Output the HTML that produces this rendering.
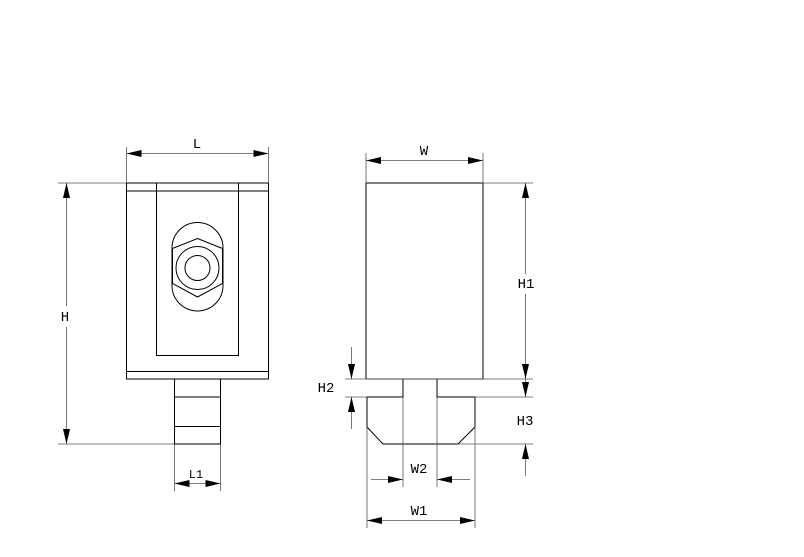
<!DOCTYPE html>
<html><head><meta charset="utf-8"><style>
html,body{margin:0;padding:0;background:#fff;}
svg{display:block;}
text{font-family:"Liberation Mono",monospace;font-size:14px;fill:#000;}
</style></head><body>
<svg width="804" height="557" viewBox="0 0 804 557" xmlns="http://www.w3.org/2000/svg">
<defs>
<marker id="a" viewBox="0 0 15 7" refX="15" refY="3.5" markerWidth="15" markerHeight="7" markerUnits="userSpaceOnUse" orient="auto-start-reverse"><path d="M0,0 L15,3.5 L0,7 z" fill="#000"/></marker>
</defs>
<g fill="none" stroke="#000" stroke-width="1">
<rect x="126.5" y="183" width="142" height="196"/>
<line x1="126.5" y1="191" x2="268.5" y2="191"/>
<line x1="126.5" y1="371.5" x2="268.5" y2="371.5"/>
<path d="M156.5,183 V355.5 H238.5 V183"/>
<path d="M172,248 A25.5,25.5 0 0 1 223,248 V285.5 A25.5,25.5 0 0 1 172,285.5 Z"/>
<path d="M197.5,238.5 L222.5,248.5 V283.5 L197.5,297 L172.5,283.5 V248.5 Z"/>
<circle cx="197.5" cy="268" r="21.5"/>
<circle cx="197.5" cy="268" r="12.5"/>
<rect x="174.5" y="379" width="46" height="65"/>
<line x1="174.5" y1="397" x2="220.5" y2="397"/>
<line x1="174.5" y1="426.5" x2="220.5" y2="426.5"/>
<rect x="366" y="183" width="117" height="196"/>
<path d="M403,379 V397 H367 V427 L383,444 H458 L475,427 V397 H437 V379"/>
</g>
<g fill="none" stroke="#555" stroke-width="0.8">
<line x1="126.5" y1="147" x2="126.5" y2="183"/>
<line x1="268.5" y1="147" x2="268.5" y2="183"/>
<line x1="126.5" y1="153.5" x2="268.5" y2="153.5" marker-start="url(#a)" marker-end="url(#a)"/>
<line x1="58" y1="183" x2="126" y2="183"/>
<line x1="58" y1="444" x2="174" y2="444"/>
<line x1="66.5" y1="183" x2="66.5" y2="306" marker-start="url(#a)"/>
<line x1="66.5" y1="327" x2="66.5" y2="444" marker-end="url(#a)"/>
<line x1="174.5" y1="444" x2="174.5" y2="491"/>
<line x1="220.5" y1="444" x2="220.5" y2="491"/>
<line x1="174.5" y1="483.5" x2="220.5" y2="483.5" marker-start="url(#a)" marker-end="url(#a)"/>
<line x1="366" y1="153" x2="366" y2="183"/>
<line x1="483" y1="153" x2="483" y2="183"/>
<line x1="366" y1="160.5" x2="483" y2="160.5" marker-start="url(#a)" marker-end="url(#a)"/>
<line x1="483" y1="183" x2="533" y2="183"/>
<line x1="345" y1="379" x2="533" y2="379"/>
<line x1="525.5" y1="183" x2="525.5" y2="274" marker-start="url(#a)"/>
<line x1="525.5" y1="294" x2="525.5" y2="379" marker-end="url(#a)"/>
<line x1="345" y1="397" x2="367" y2="397"/>
<line x1="351.5" y1="347" x2="351.5" y2="379" marker-end="url(#a)"/>
<line x1="351.5" y1="429" x2="351.5" y2="397" marker-end="url(#a)"/>
<line x1="475" y1="397" x2="533" y2="397"/>
<line x1="458" y1="444" x2="533" y2="444"/>
<line x1="525.5" y1="379" x2="525.5" y2="397" marker-end="url(#a)"/>
<line x1="525.5" y1="476" x2="525.5" y2="444" marker-end="url(#a)"/>
<line x1="403" y1="397" x2="403" y2="487"/>
<line x1="437" y1="397" x2="437" y2="487"/>
<line x1="371" y1="479.5" x2="403" y2="479.5" marker-end="url(#a)"/>
<line x1="470" y1="479.5" x2="437" y2="479.5" marker-end="url(#a)"/>
<line x1="367" y1="427" x2="367" y2="528"/>
<line x1="475" y1="427" x2="475" y2="528"/>
<line x1="367" y1="520.5" x2="475" y2="520.5" marker-start="url(#a)" marker-end="url(#a)"/>
</g>
<text x="197" y="148" text-anchor="middle">L</text>
<text x="65" y="321" text-anchor="middle">H</text>
<text x="196" y="478" text-anchor="middle" style="font-size:12px">L1</text>
<text x="424" y="155" text-anchor="middle">W</text>
<text x="526" y="288" text-anchor="middle">H1</text>
<text x="326" y="392" text-anchor="middle">H2</text>
<text x="525" y="425" text-anchor="middle">H3</text>
<text x="419" y="473" text-anchor="middle">W2</text>
<text x="419" y="515" text-anchor="middle">W1</text>
</svg>
</body></html>
